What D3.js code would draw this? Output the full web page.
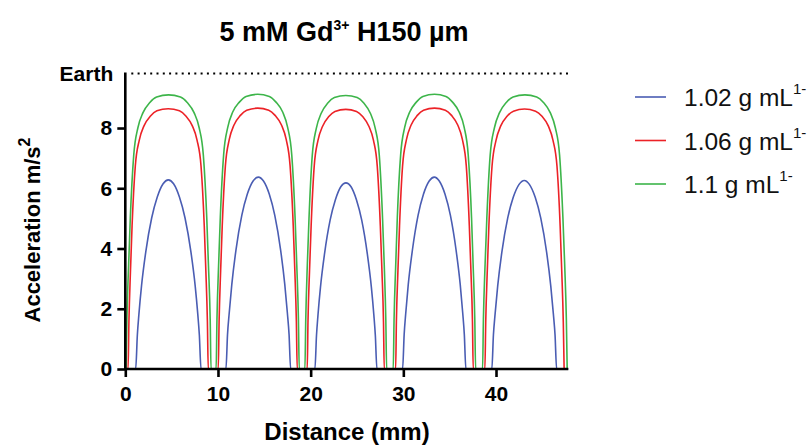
<!DOCTYPE html>
<html lang="en">
  <head>
    <meta charset="UTF-8">
    <title>5 mM Gd3+ H150 um</title>
    <style>
      html,body{
        background-color: #fff;
        margin: 0;
        padding: 0;
      }
      text{ font-family: "Liberation Sans", Arial, sans-serif; }
    </style>
  </head>
  <body>
    <div id="chart"></div>
    <script src="https://cdnjs.cloudflare.com/ajax/libs/d3/7.8.5/d3.min.js"></script>
    <script>
      // x / y values, one pair of arrays per series
      var blueX = [0, 1.12,1.30,1.47,1.75,2.21,2.85,3.45,4.08,4.64,5.21,5.84,6.44,7.08,7.54,7.82,7.99,8.17,
        10.86,11.03,11.21,11.49,11.94,12.57,13.16,13.79,14.35,14.91,15.54,16.13,16.76,17.21,17.49,17.67,17.84,
        20.46,20.63,20.79,21.06,21.50,22.10,22.67,23.27,23.81,24.34,24.94,25.51,26.11,26.55,26.82,26.98,27.15,
        29.92,30.09,30.26,30.53,30.98,31.59,32.17,32.79,33.34,33.88,34.50,35.08,35.69,36.14,36.41,36.58,36.75,
        39.55,39.72,39.90,40.18,40.63,41.26,41.86,42.49,43.05,43.60,44.23,44.83,45.46,45.91,46.19,46.37,46.54, 47.8];
      var blueY = [0, 0,1.13,1.82,2.76,3.89,5.02,5.71,6.15,6.28,6.15,5.71,5.02,3.89,2.76,1.82,1.13,0,
        0,1.15,1.85,2.80,3.95,5.10,5.80,6.24,6.37,6.24,5.80,5.10,3.95,2.80,1.85,1.15,0,
        0,1.11,1.79,2.72,3.83,4.94,5.62,6.06,6.18,6.06,5.62,4.94,3.83,2.72,1.79,1.11,0,
        0,1.15,1.85,2.80,3.95,5.10,5.80,6.24,6.37,6.24,5.80,5.10,3.95,2.80,1.85,1.15,0,
        0,1.13,1.82,2.75,3.88,5.01,5.70,6.13,6.26,6.13,5.70,5.01,3.88,2.75,1.82,1.13,0, 0];

      var redX = [0, 0.30,0.39,0.56,0.73,1.08,1.51,2.03,2.72,3.41,4.63,5.84,6.53,7.22,7.74,8.17,8.52,8.69,8.86,8.95,
        10.03,10.12,10.29,10.46,10.80,11.22,11.73,12.42,13.10,14.29,15.48,16.16,16.85,17.36,17.78,18.12,18.29,18.46,18.55,
        19.63,19.71,19.88,20.05,20.38,20.79,21.29,21.96,22.62,23.79,24.95,25.61,26.28,26.78,27.19,27.52,27.69,27.86,27.94,
        29.17,29.25,29.42,29.59,29.92,30.34,30.84,31.51,32.18,33.36,34.53,35.20,35.87,36.37,36.79,37.12,37.29,37.46,37.54,
        38.80,38.89,39.06,39.23,39.57,40.00,40.51,41.19,41.88,43.08,44.27,44.96,45.64,46.15,46.58,46.92,47.09,47.26,47.35];
      var redY = [0, 0,1.56,3.28,4.75,6.74,7.60,8.08,8.40,8.57,8.64,8.57,8.40,8.08,7.60,6.74,4.75,3.28,1.56,0,
        0,1.56,3.29,4.76,6.75,7.62,8.10,8.42,8.59,8.66,8.59,8.42,8.10,7.62,6.75,4.76,3.29,1.56,0,
        0,1.55,3.28,4.74,6.72,7.59,8.06,8.38,8.55,8.62,8.55,8.38,8.06,7.59,6.72,4.74,3.28,1.55,0,
        0,1.56,3.29,4.76,6.75,7.62,8.10,8.42,8.59,8.66,8.59,8.42,8.10,7.62,6.75,4.76,3.29,1.56,0,
        0,1.55,3.28,4.75,6.73,7.59,8.07,8.39,8.56,8.63,8.56,8.39,8.07,7.59,6.73,4.75,3.28,1.55,0];

      var greenX = [0.08,0.17,0.36,0.54,0.91,1.36,1.91,2.65,3.38,4.67,5.95,6.68,7.42,7.97,8.42,8.79,8.97,9.16,9.25,
        9.80,9.89,10.07,10.25,10.61,11.06,11.59,12.31,13.03,14.29,15.54,16.26,16.98,17.51,17.96,18.32,18.50,18.68,18.77,
        19.38,19.47,19.64,19.82,20.17,20.61,21.14,21.85,22.56,23.79,25.02,25.73,26.44,26.97,27.41,27.76,27.94,28.11,28.20,
        28.91,29.00,29.18,29.35,29.71,30.15,30.69,31.40,32.11,33.36,34.60,35.31,36.02,36.56,37.00,37.36,37.53,37.71,37.80,
        38.55,38.64,38.82,39.01,39.37,39.83,40.38,41.11,41.84,43.12,44.39,45.12,45.85,46.40,46.86,47.22,47.41,47.59,47.68];
      var greenY = [0,1.64,3.46,5.01,7.10,8.01,8.51,8.85,9.03,9.10,9.03,8.85,8.51,8.01,7.10,5.01,3.46,1.64,0,
        0,1.64,3.47,5.02,7.11,8.03,8.53,8.86,9.05,9.12,9.05,8.86,8.53,8.03,7.11,5.02,3.47,1.64,0,
        0,1.63,3.45,4.99,7.08,7.99,8.49,8.83,9.01,9.08,9.01,8.83,8.49,7.99,7.08,4.99,3.45,1.63,0,
        0,1.64,3.47,5.02,7.11,8.03,8.53,8.86,9.05,9.12,9.05,8.86,8.53,8.03,7.11,5.02,3.47,1.64,0,
        0,1.64,3.46,5.01,7.10,8.01,8.51,8.85,9.03,9.10,9.03,8.85,8.51,8.01,7.10,5.01,3.46,1.64,0];

      var seriesNames = ["1.02 g mL", "1.06 g mL", "1.1 g mL"];
      var seriesColors = ["#4a5db3", "#ec2227", "#3db54a"];
      var xTicks = [0, 10, 20, 30, 40];
      var yTicks = [0, 2, 4, 6, 8];
      var earth = 9.81;

      var width = 811, height = 448;
      var svg = d3.select("#chart").append("svg")
        .attr("width", width)
        .attr("height", height);

      var x = d3.scaleLinear().domain([0, 47.8]).range([125.3, 568.3]);
      var y = d3.scaleLinear().domain([0, earth]).range([369, 73.5]);

      // title
      var title = svg.append("text")
        .attr("x", 344).attr("y", 41)
        .attr("text-anchor", "middle")
        .attr("font-size", 27).attr("font-weight", "bold");
      title.append("tspan").text("5 mM Gd");
      title.append("tspan").attr("font-size", 14).attr("dy", -11).text("3+");
      title.append("tspan").attr("dy", 11).text(" H150 µm");

      // earth line
      svg.append("line")
        .attr("x1", x(0) + 6).attr("x2", x(47.8))
        .attr("y1", y(earth)).attr("y2", y(earth))
        .attr("stroke", "#000").attr("stroke-width", 2)
        .attr("stroke-dasharray", "2,4.3");

      // series
      var line = d3.line()
        .x(function(d){ return x(d[0]); })
        .y(function(d){ return y(d[1]); })
        .curve(d3.curveMonotoneX);

      var series = [
        d3.zip(blueX, blueY),
        d3.zip(redX, redY),
        d3.zip(greenX, greenY)
      ];
      series.forEach(function(s, i){
        svg.append("path")
          .attr("d", line(s))
          .attr("fill", "none")
          .attr("stroke", seriesColors[i])
          .attr("stroke-width", 1.6);
      });

      // axes
      var xAxis = svg.append("g")
        .attr("transform", "translate(0," + y(0) + ")")
        .call(d3.axisBottom(x).tickValues(xTicks).tickSize(8).tickPadding(9));
      var yAxis = svg.append("g")
        .attr("transform", "translate(" + x(0) + ",0)")
        .call(d3.axisLeft(y).tickValues(yTicks).tickSize(8).tickPadding(5));

      [xAxis, yAxis].forEach(function(g){
        g.select(".domain").attr("stroke", "#000").attr("stroke-width", 2.6);
        g.selectAll(".tick line").attr("stroke", "#000").attr("stroke-width", 2.6);
        g.selectAll(".tick text")
          .attr("font-family", "Liberation Sans, Arial, sans-serif")
          .attr("font-size", 21).attr("font-weight", "bold").attr("fill", "#000");
      });
      xAxis.select(".domain").attr("d", "M" + x(0) + ",0H" + x(47.8));
      yAxis.select(".domain").attr("d", "M0," + y(0) + "V" + (y(earth) - 1));

      svg.append("text")
        .attr("x", x(0) - 12).attr("y", y(earth) + 7)
        .attr("text-anchor", "end")
        .attr("font-size", 21).attr("font-weight", "bold")
        .text("Earth");

      // axis titles
      svg.append("text")
        .attr("x", 347).attr("y", 440)
        .attr("text-anchor", "middle")
        .attr("font-size", 24).attr("font-weight", "bold")
        .text("Distance (mm)");

      var yTitle = svg.append("text")
        .attr("transform", "translate(40,230) rotate(-90)")
        .attr("text-anchor", "middle")
        .attr("font-size", 22).attr("font-weight", "bold");
      yTitle.append("tspan").text("Acceleration m/s");
      yTitle.append("tspan").attr("font-size", 16).attr("dy", -10).text("2");

      // legend
      var legend = svg.append("g");
      seriesNames.forEach(function(name, i){
        var ly = 97 + i * 43.5;
        legend.append("line")
          .attr("x1", 635).attr("x2", 666)
          .attr("y1", ly).attr("y2", ly)
          .attr("stroke", seriesColors[i]).attr("stroke-width", 1.6);
        var t = legend.append("text")
          .attr("x", 684).attr("y", ly + 9)
          .attr("font-size", 24.5).attr("fill", "#111");
        t.append("tspan").text(name);
        t.append("tspan").attr("font-size", 15).attr("dy", -12).text("1-");
      });
    </script>
  </body>
</html>
